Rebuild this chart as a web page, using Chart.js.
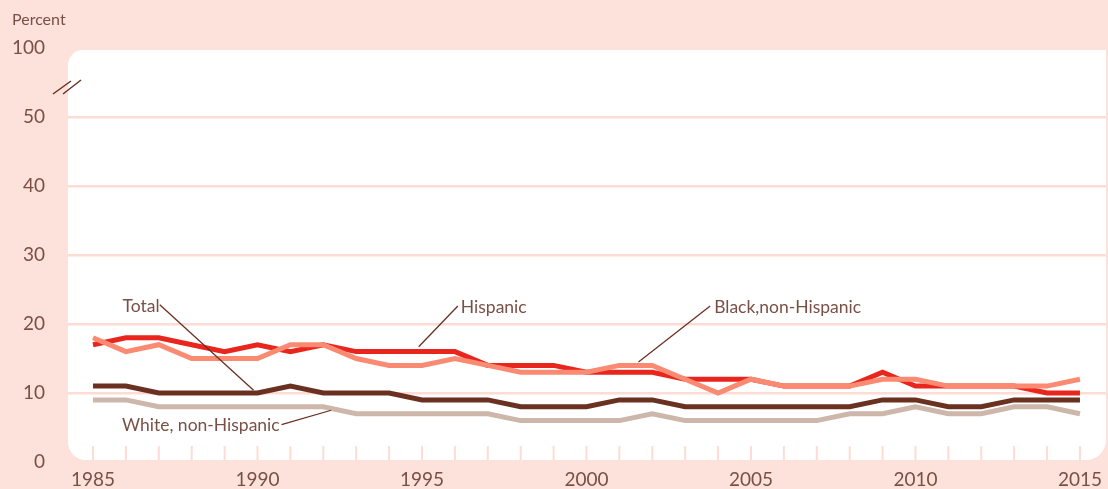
<!DOCTYPE html>
<html>
<head>
<meta charset="utf-8">
<script src="https://cdn.jsdelivr.net/npm/chart.js@4"></script>
<style>
  html, body { margin: 0; padding: 0; background: #fde2dc; }
  canvas { display: block; }
</style>
</head>
<body>
<canvas id="dropoutChart" width="1108" height="489"></canvas>
<script>
// Status dropout rates, percent, 1985-2015

const years = [
	1985, 1986, 1987, 1988, 1989, 1990, 1991, 1992, 1993, 1994,
	1995, 1996, 1997, 1998, 1999, 2000, 2001, 2002, 2003, 2004,
	2005, 2006, 2007, 2008, 2009, 2010, 2011, 2012, 2013, 2014, 2015,
];
const totalPct = [
	11, 11, 10, 10, 10, 10, 11, 10, 10, 10,
	9, 9, 9, 8, 8, 8, 9, 9, 8, 8,
	8, 8, 8, 8, 9, 9, 8, 8, 9, 9, 9,
];
const whitePct = [
	9, 9, 8, 8, 8, 8, 8, 8, 7, 7,
	7, 7, 7, 6, 6, 6, 6, 7, 6, 6,
	6, 6, 6, 7, 7, 8, 7, 7, 8, 8, 7,
];
const blackPct = [
	18, 16, 17, 15, 15, 15, 17, 17, 15, 14,
	14, 15, 14, 13, 13, 13, 14, 14, 12, 10,
	12, 11, 11, 11, 12, 12, 11, 11, 11, 11, 12,
];
const hispanicPct = [
	17, 18, 18, 17, 16, 17, 16, 17, 16, 16,
	16, 16, 14, 14, 14, 13, 13, 13, 12, 12,
	12, 11, 11, 11, 13, 11, 11, 11, 11, 10, 10,
];
const xTicks = [1985, 1990, 1995, 2000, 2005, 2010, 2015];
// the axis is broken above 50, so the top tick stands for 100
const yTickValues = [0, 10, 20, 30, 40, 50, 60];
const yTickLabels = ["0", "10", "20", "30", "40", "50", "100"];

// callout labels: text position and leader line, in data units
const callouts = [
	{ text: "Total", at: [1985.9, 22.5], from: [1987.03, 22.8], to: [1989.88, 10.4] },
	{ text: "White, non-Hispanic", at: [1985.88, 5.3], from: [1990.73, 5.4], to: [1992.24, 7.5] },
	{ text: "Hispanic", at: [1996.18, 22.4], from: [1996.09, 22.6], to: [1994.9, 16.7] },
	{ text: "Black,non-Hispanic", at: [2003.88, 22.4], from: [2003.76, 22.6], to: [2001.58, 14.5] },
];

const PINK = "#fde2dc";
const GRID = "#fcdcd4";
const TEXT = "#7a5046";
const LEADER = "#6b3020";
const FONT = "Lato, 'DejaVu Sans', sans-serif";

const points = (vals) => years.map((yr, i) => ({ x: yr, y: vals[i] }));

const backdrop = {
	id: "backdrop",
	beforeDraw(chart) {
		const { ctx, chartArea: a } = chart;
		ctx.save();
		ctx.fillStyle = PINK;
		ctx.fillRect(0, 0, chart.width, chart.height);
		ctx.fillStyle = "#ffffff";
		ctx.beginPath();
		ctx.roundRect(a.left, a.top + 2, a.right - a.left, a.bottom - 2 - (a.top + 2), [15, 0, 20, 18]);
		ctx.fill();
		ctx.restore();
	},
	beforeDatasetsDraw(chart) {
		// small year ticks along the bottom of the plot
		const { ctx, chartArea: a, scales } = chart;
		ctx.save();
		ctx.strokeStyle = GRID;
		ctx.lineWidth = 2;
		years.forEach((yr) => {
			const x = scales.x.getPixelForValue(yr);
			ctx.beginPath();
			ctx.moveTo(x, a.bottom - 16);
			ctx.lineTo(x, a.bottom - 2);
			ctx.stroke();
		});
		ctx.restore();
	},
	afterDatasetsDraw(chart) {
		const { ctx, scales } = chart;
		const px = (p) => [scales.x.getPixelForValue(p[0]), scales.y.getPixelForValue(p[1])];
		ctx.save();
		ctx.font = "17.5px " + FONT;
		ctx.fillStyle = TEXT;
		ctx.textBaseline = "middle";
		ctx.strokeStyle = LEADER;
		ctx.lineWidth = 1.3;
		callouts.forEach((c) => {
			const [tx, ty] = px(c.at);
			ctx.fillText(c.text, tx, ty);
			const [x1, y1] = px(c.from);
			const [x2, y2] = px(c.to);
			ctx.beginPath();
			ctx.moveTo(x1, y1);
			ctx.lineTo(x2, y2);
			ctx.stroke();
		});
		ctx.restore();
	},
	afterDraw(chart) {
		const { ctx, chartArea: a } = chart;
		ctx.save();
		// axis break marks
		ctx.strokeStyle = LEADER;
		ctx.lineWidth = 1.5;
		[[-15, 94, 3, 81], [-5, 94, 13, 80]].forEach(([x1, y1, x2, y2]) => {
			ctx.beginPath();
			ctx.moveTo(a.left + x1, y1);
			ctx.lineTo(a.left + x2, y2);
			ctx.stroke();
		});
		ctx.font = "16px " + FONT;
		ctx.fillStyle = TEXT;
		ctx.textBaseline = "middle";
		ctx.fillText("Percent", 12, 20);
		ctx.restore();
	},
};

const dropoutConfig = {
	type: "line",
	data: {
		datasets: [
			{ label: "White, non-Hispanic", data: points(whitePct), borderColor: "#cdb6aa" },
			{ label: "Total", data: points(totalPct), borderColor: "#6a3020" },
			{ label: "Black, non-Hispanic", data: points(blackPct), borderColor: "#fa8a72" },
			{ label: "Hispanic", data: points(hispanicPct), borderColor: "#e8261d" },
		],
	},
	options: {
		responsive: false,
		animation: false,
		devicePixelRatio: 1,
		layout: { padding: { top: 48, left: 0, right: 0, bottom: 0 } },
		elements: {
			point: { radius: 0 },
			line: { borderWidth: 5, tension: 0, fill: false },
		},
		plugins: {
			legend: { display: false },
			tooltip: { enabled: false },
		},
		scales: {
			x: {
				type: "linear",
				min: 1984.24,
				max: 2015.79,
				afterBuildTicks: (s) => { s.ticks = xTicks.map((v) => ({ value: v })); },
				afterFit: (s) => { s.height = 27; },
				grid: { display: false, drawTicks: false },
				border: { display: false },
				ticks: {
					autoSkip: false,
					maxRotation: 0,
					padding: 6,
					color: TEXT,
					font: { family: FONT, size: 19 },
					callback: (v) => String(v),
				},
			},
			y: {
				min: 0,
				max: 60,
				afterBuildTicks: (s) => { s.ticks = yTickValues.map((v) => ({ value: v })); },
				afterFit: (s) => {
					s.width = 68;
					s.paddingTop = 0;
					s.paddingBottom = 0;
				},
				grid: {
					drawTicks: false,
					lineWidth: 2.5,
					color: (c) => (c.tick && (c.tick.value === 0 || c.tick.value === 60) ? "rgba(0,0,0,0)" : GRID),
				},
				border: { display: false },
				ticks: {
					padding: 23,
					color: TEXT,
					font: { family: FONT, size: 19 },
					callback: (v) => yTickLabels[yTickValues.indexOf(v)],
				},
			},
		},
	},
	plugins: [backdrop],
};

const dropoutChart = new Chart(document.getElementById("dropoutChart"), dropoutConfig);
</script>
</body>
</html>
